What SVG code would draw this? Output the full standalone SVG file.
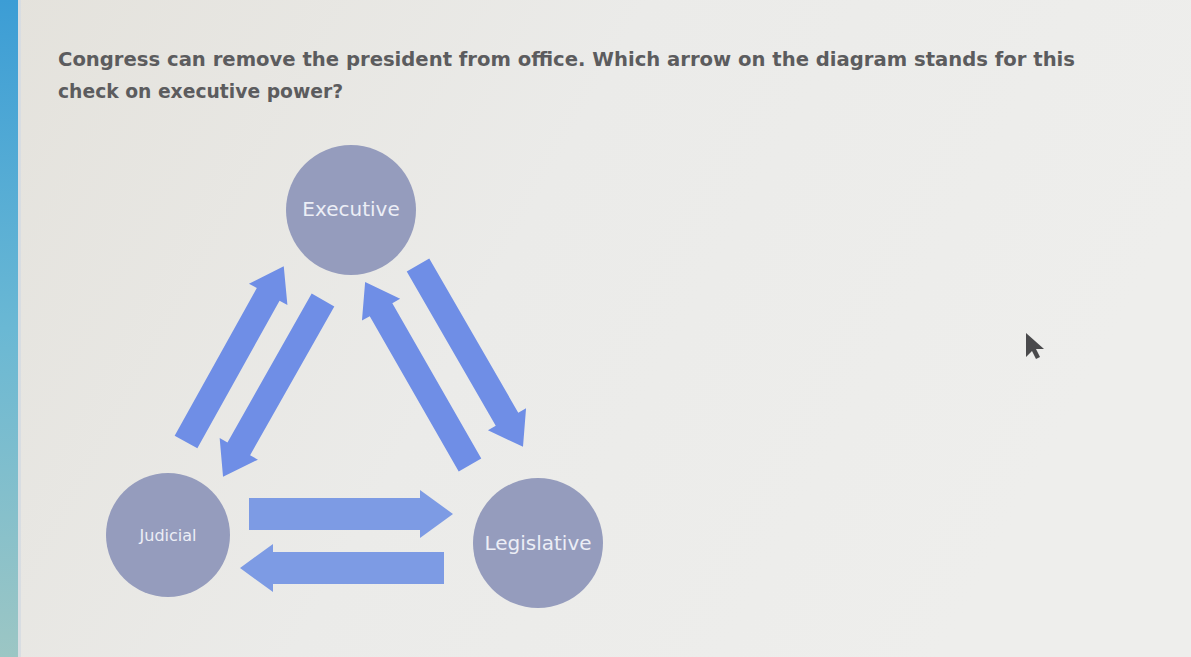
<svg xmlns="http://www.w3.org/2000/svg" width="1191" height="657" viewBox="0 0 1191 657">
  <defs>
    <linearGradient id="bg" x1="0" y1="0" x2="1" y2="0.3">
      <stop offset="0" stop-color="#e4e2dc"/>
      <stop offset="0.5" stop-color="#ebebe9"/>
      <stop offset="1" stop-color="#eeeeec"/>
    </linearGradient>
    <linearGradient id="strip" x1="0" y1="0" x2="0" y2="1">
      <stop offset="0" stop-color="#3c9dd5"/>
      <stop offset="0.5" stop-color="#6ab8d4"/>
      <stop offset="1" stop-color="#9cc6c4"/>
    </linearGradient>
    <style>
      .q { font-family: "DejaVu Sans", Verdana, sans-serif; font-size: 19.5px; font-weight: bold; fill: #5c5c5e; }
      .node { fill: #959cbd; }
      .lbl { font-family: "DejaVu Sans", Verdana, sans-serif; fill: #eceef6; text-anchor: middle; dominant-baseline: central; }
      .arrow { fill: #6f8ee6; }
      .harrow { fill: #7d9be4; }
    </style>
  </defs>

  <rect x="0" y="0" width="1191" height="657" fill="url(#bg)"/>
  <rect x="0" y="0" width="18" height="657" fill="url(#strip)"/>
  <rect x="18" y="0" width="3" height="657" fill="#d8dde2"/>

  <text class="q" x="58" y="66" textLength="1017" lengthAdjust="spacingAndGlyphs">Congress can remove the president from office. Which arrow on the diagram stands for this</text>
  <text class="q" x="58" y="98" textLength="285" lengthAdjust="spacingAndGlyphs">check on executive power?</text>

  <g id="connectors">
    <path class="arrow" transform="translate(186,442) rotate(-60.9)" d="M0,-13 L169,-13 L169,-22 L201,0 L169,22 L169,13 L0,13 Z"/>
    <path class="arrow" transform="translate(323,300) rotate(119.5)" d="M0,-13 L171,-13 L171,-22 L203,0 L171,22 L171,13 L0,13 Z"/>
    <path class="arrow" transform="translate(470,465) rotate(-119.8)" d="M0,-13 L179,-13 L179,-22 L211,0 L179,22 L179,13 L0,13 Z"/>
    <path class="arrow" transform="translate(418,265) rotate(60)" d="M0,-13 L178,-13 L178,-22 L210,0 L178,22 L178,13 L0,13 Z"/>
    <path class="harrow" transform="translate(249,514)" d="M0,-16 L171,-16 L171,-24 L204,0 L171,24 L171,16 L0,16 Z"/>
    <path class="harrow" transform="translate(444,568) rotate(180)" d="M0,-16 L171,-16 L171,-24 L204,0 L171,24 L171,16 L0,16 Z"/>
  </g>

  <g id="executive">
    <circle class="node" cx="351" cy="210" r="65"/>
    <text class="lbl" x="351" y="209" font-size="20">Executive</text>
  </g>
  <g id="judicial">
    <circle class="node" cx="168" cy="535" r="62"/>
    <text class="lbl" x="168" y="535" font-size="16">Judicial</text>
  </g>
  <g id="legislative">
    <circle class="node" cx="538" cy="543" r="65"/>
    <text class="lbl" x="538" y="543" font-size="20">Legislative</text>
  </g>

  <polygon points="1026,333 1026,357 1032,351 1036,359 1040,357 1036,349 1044,349" fill="#4a4a4c"/>
</svg>
